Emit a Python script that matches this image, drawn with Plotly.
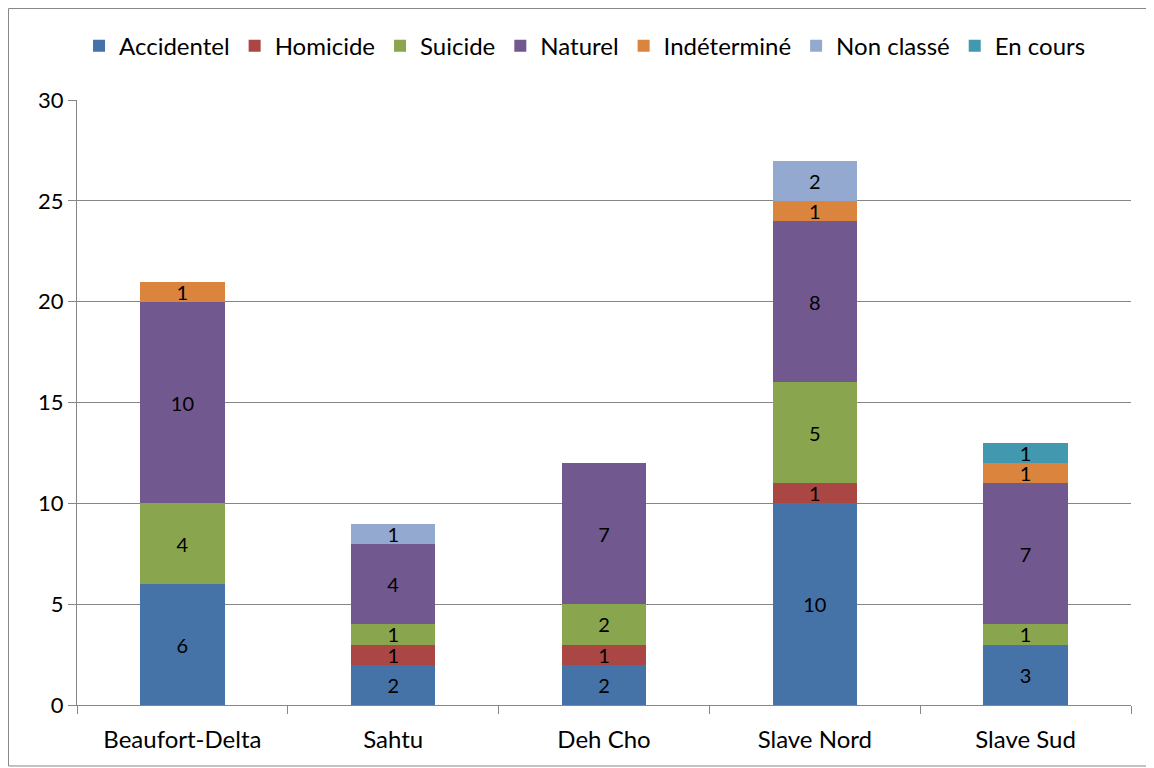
import plotly.graph_objects as go

categories = ["Beaufort-Delta", "Sahtu", "Deh Cho", "Slave Nord", "Slave Sud"]
series_names = ["Accidentel", "Homicide", "Suicide", "Naturel", "Indéterminé", "Non classé", "En cours"]
accidentel = [6, 2, 2, 10, 3]
homicide = [0, 1, 1, 1, 0]
suicide = [4, 1, 2, 5, 1]
naturel = [10, 4, 7, 8, 7]
indetermine = [1, 0, 0, 1, 1]
non_classe = [0, 1, 0, 2, 0]
en_cours = [0, 0, 0, 0, 1]
y_ticks = [0, 5, 10, 15, 20, 25, 30]

series_values = [accidentel, homicide, suicide, naturel, indetermine, non_classe, en_cours]
colors = ["#4572A7", "#AA4643", "#89A54E", "#71588F", "#DB843D", "#93A9CF", "#4198AF"]

FONT = "Lato"
FS = 22
LBL = 20
fig = go.Figure()
for name, vals, col in zip(series_names, series_values, colors):
    fig.add_trace(go.Bar(
        name=name, x=categories, y=vals, marker=dict(color=col, line=dict(width=0)),
        text=[str(v) if v else "" for v in vals],
        textposition="inside", insidetextanchor="middle", textangle=0,
        textfont=dict(color="black", size=LBL, family=FONT),
    ))

fig.update_layout(
    barmode="stack", bargap=0.6,
    width=1146, height=760,
    margin=dict(l=69, r=23, t=92, b=63),
    plot_bgcolor="white", paper_bgcolor="white",
    font=dict(family=FONT, size=FS, color="black"),
    uniformtext=dict(minsize=LBL, mode="show"),
    legend=dict(orientation="h", x=0.482, xanchor="center", y=1.089, yanchor="middle",
                font=dict(size=24, family=FONT), itemwidth=30, traceorder="normal"),
    xaxis=dict(showline=True, linecolor="#868686", linewidth=1, ticks="outside",
               tickson="boundaries", ticklen=8, tickcolor="#868686",
               showgrid=False, tickfont=dict(size=24), ticklabelstandoff=13),
    yaxis=dict(range=[0, 30], tickvals=y_ticks, showline=True, linecolor="#868686",
               linewidth=1, ticks="outside", ticklen=8, tickcolor="#868686",
               showgrid=True, gridcolor="#868686", gridwidth=1, zeroline=False,
               tickfont=dict(size=FS)),
    shapes=[dict(type="rect", xref="paper", yref="paper",
                 x0=-0.065, x1=1.018, y0=-0.1008, y1=1.1512,
                 line=dict(color="#868686", width=1), fillcolor="rgba(0,0,0,0)", layer="below")],
)

fig.write_html("out.html")
